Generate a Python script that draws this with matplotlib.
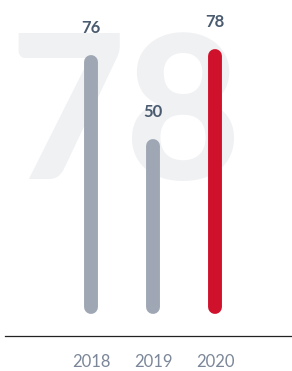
import matplotlib
matplotlib.use('Agg')
import matplotlib.pyplot as plt

# data
years = ['2018', '2019', '2020']
values = [76, 50, 78]
bar_colors = ['#9ea7b3', '#9ea7b3', '#d0112b']
highlight = '78'

fig = plt.figure(figsize=(2.92, 3.71), dpi=100)
ax = fig.add_axes([0, 0, 1, 1])
ax.axis('off')

# px scale: 62 px per category, 3.22 px per unit
ax.set_xlim(-91 / 62, (292 - 91) / 62)
ax.set_ylim(-64 / 3.22, (371 - 64) / 3.22)

# big watermark number in the background
ax.text(0.428, 0.5175, highlight, transform=ax.transAxes, ha='center', va='baseline',
        fontsize=144, fontfamily='Lato', fontweight=900, color='#f0f1f3', zorder=0)

for i, (v, c) in enumerate(zip(values, bar_colors)):
    ax.plot([i, i], [0, v], color=c, linewidth=10, solid_capstyle='round', zorder=2)
    ax.annotate(str(v), (i, v), xytext=(0, 24.5), textcoords='offset points',
                ha='center', va='center', fontsize=12, fontfamily='Lato',
                fontweight='bold', color='#4a5b6f', zorder=3)
    ax.text(i, 0.024, years[i], transform=ax.get_xaxis_transform(),
            ha='center', va='center', fontsize=12, fontfamily='Lato', color='#7b8798')

# baseline
ax.plot([0.017, 1.0], [0.094, 0.094], transform=ax.transAxes, color='#222222', linewidth=0.9)

fig.savefig('out.png', dpi=100)
